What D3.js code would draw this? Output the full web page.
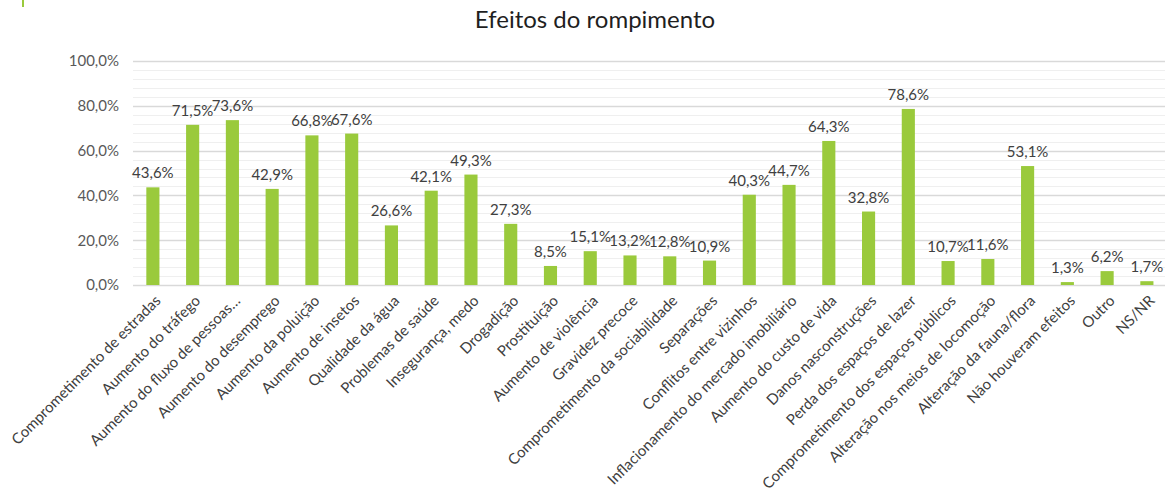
<!DOCTYPE html>
<html>
<head>
<meta charset="utf-8">
<script src="https://cdn.jsdelivr.net/npm/d3@7"></script>
<style>
  body { margin: 0; background: #fff; }
  svg { display: block; font-family: Lato, "Open Sans", sans-serif; }
</style>
</head>
<body>
<svg width="1165" height="504"></svg>
<script>
const categories = [
    'Comprometimento de estradas', 'Aumento do tráfego', 'Aumento do fluxo de pessoas…',
    'Aumento do desemprego', 'Aumento da poluição', 'Aumento de insetos',
    'Qualidade da água', 'Problemas de saúde', 'Insegurança, medo', 'Drogadição',
    'Prostituição', 'Aumento de violência', 'Gravidez precoce',
    'Comprometimento da sociabilidade', 'Separações', 'Conflitos entre vizinhos',
    'Inflacionamento do mercado imobiliário', 'Aumento do custo de vida',
    'Danos nasconstruções', 'Perda dos espaços de lazer',
    'Comprometimento dos espaços públicos', 'Alteração nos meios de locomoção',
    'Alteração da fauna/flora', 'Não houveram efeitos', 'Outro', 'NS/NR'
];
const values = [
    0.436, 0.715, 0.736, 0.429, 0.668, 0.676, 0.266, 0.421, 0.493, 0.273,
    0.085, 0.151, 0.132, 0.128, 0.109, 0.403, 0.447, 0.643, 0.328, 0.786,
    0.107, 0.116, 0.531, 0.013, 0.062, 0.017
];
const yTicks = [0, 0.2, 0.4, 0.6, 0.8, 1.0];
const minorTicks = d3.range(0, 1.0001, 0.04);
const title = 'Efeitos do rompimento';

const data = categories.map((c, i) => ({ name: c, value: values[i] }));

const svg = d3.select('svg');
const width = +svg.attr('width');

const pt = d3.formatLocale({ decimal: ',', thousands: '.', grouping: [3], currency: ['', ''] });
const fmt = pt.format('.1%');

const left = 133;
const step = 39.76;

// SCALES
const x = d3.scaleBand()
    .domain(categories)
    .range([left, left + step * categories.length])
    .paddingInner(0.67)
    .paddingOuter(0.335);
const y = d3.scaleLinear()
    .domain([0, 1])
    .range([285, 61]);

// little green mark top left
svg.append('line')
    .attr('x1', 23).attr('x2', 23)
    .attr('y1', 0).attr('y2', 7)
    .attr('stroke', '#9aca3c')
    .attr('stroke-width', 2);

// TITLE
svg.append('text')
    .attr('x', 595)
    .attr('y', 28)
    .attr('text-anchor', 'middle')
    .attr('font-size', 24)
    .attr('fill', '#1f1f1f')
    .text(title);

// GRID
const isMajor = d => Math.abs(d * 5 - Math.round(d * 5)) < 1e-6;
svg.append('g')
    .selectAll('line')
    .data(minorTicks)
    .join('line')
        .attr('x1', left)
        .attr('x2', width)
        .attr('y1', d => Math.round(y(d)) + 0.5)
        .attr('y2', d => Math.round(y(d)) + 0.5)
        .attr('stroke', d => isMajor(d) ? '#d9d9d9' : '#efefef')
        .attr('stroke-width', d => isMajor(d) ? 1.5 : 1);

// Y AXIS
const yAxis = d3.axisLeft(y)
    .tickValues(yTicks)
    .tickFormat(fmt)
    .tickSize(0)
    .tickPadding(0);
svg.append('g')
    .attr('transform', 'translate(119,0)')
    .call(yAxis)
    .call(g => g.select('.domain').remove())
    .selectAll('text')
        .attr('font-size', 15)
        .attr('font-family', 'Lato, sans-serif')
        .attr('fill', '#595959');

// BARS
svg.append('g')
    .selectAll('rect')
    .data(data)
    .join('rect')
        .attr('x', d => x(d.name))
        .attr('width', x.bandwidth())
        .attr('y', d => y(d.value))
        .attr('height', d => y(0) - y(d.value))
        .attr('fill', '#9aca3c');

// DATA LABELS
svg.append('g')
    .selectAll('text')
    .data(data)
    .join('text')
        .attr('x', d => x(d.name) + x.bandwidth() / 2)
        .attr('y', d => y(d.value) - 9)
        .attr('text-anchor', 'middle')
        .attr('font-size', 15)
        .attr('fill', '#404040')
        .text(d => fmt(d.value));

// X AXIS
const xAxis = d3.axisBottom(x).tickSize(0).tickPadding(0);
svg.append('g')
    .attr('transform', `translate(0,${y(0)})`)
    .call(xAxis)
    .call(g => g.select('.domain').remove())
    .selectAll('text')
        .attr('font-size', 15)
        .attr('font-family', 'Lato, sans-serif')
        .attr('fill', '#404040')
        .attr('text-anchor', 'end')
        .attr('dy', '0.35em')
        .attr('transform', 'translate(5,13) rotate(-45)');
</script>
</body>
</html>
